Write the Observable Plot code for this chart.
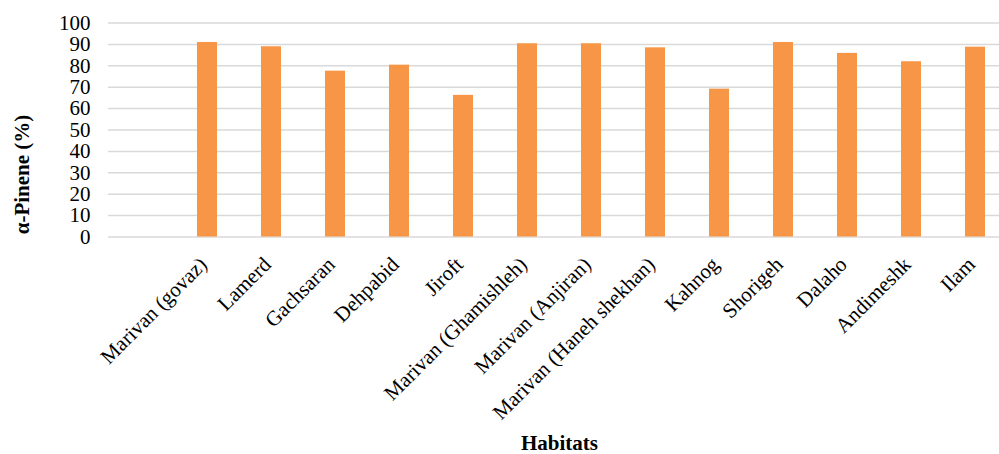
<!DOCTYPE html>
<html><head><meta charset="utf-8">
<script src="https://cdn.jsdelivr.net/npm/d3@7"></script>
<script src="https://cdn.jsdelivr.net/npm/@observablehq/plot@0.6"></script>
<style>
body{margin:0;background:#fff}
#chart{width:999px;height:454px;overflow:hidden}
</style>
</head><body><div id="chart"></div>
<script>
const habitats = ["Marivan (govaz)", "Lamerd", "Gachsaran", "Dehpabid", "Jiroft", "Marivan (Ghamishleh)", "Marivan (Anjiran)", "Marivan (Haneh shekhan)", "Kahnog", "Shorigeh", "Dalaho", "Andimeshk", "Ilam"];
const alphaPinene = [90.9, 88.9, 77.5, 80.3, 66.2, 90.3, 90.3, 88.4, 69.1, 90.9, 85.8, 81.9, 88.7];
const yTicks = [0, 10, 20, 30, 40, 50, 60, 70, 80, 90, 100];
const xTitle = "Habitats";
const yTitle = "α-Pinene (%)";

const data = habitats.map((h, i) => ({habitat: h, value: alphaPinene[i]}));
const font = "'Liberation Serif', 'Times New Roman', serif";

const chart = Plot.plot({
  width: 999,
  height: 454,
  marginLeft: 108,
  marginRight: -11,
  marginTop: 22.5,
  marginBottom: 217.5,
  style: {fontFamily: font, fontSize: "21px", color: "#000", background: "#fff"},
  x: {domain: [" ", ...habitats], paddingInner: 0.69, paddingOuter: 0.345},
  y: {domain: [0, 100]},
  marks: [
    Plot.gridY(yTicks, {stroke: "#d9d9d9", strokeOpacity: 1, strokeWidth: 1.5}),
    Plot.barY(data, {x: "habitat", y: "value", fill: "#F79646"}),
    Plot.axisY(yTicks, {tickSize: 0, tickPadding: 18, fontSize: 21, label: null}),
    Plot.axisX({tickSize: 0, tickRotate: -45, tickPadding: 24, dx: -4, fontSize: 21, label: null}),
    Plot.text([xTitle], {text: d => d, frameAnchor: "bottom", lineAnchor: "middle", textAnchor: "middle", dy: 206.5, fontWeight: "bold", fontSize: 21}),
    Plot.text([yTitle], {text: d => d, frameAnchor: "left", lineAnchor: "middle", textAnchor: "middle", dx: -86.5, dy: 44.5, rotate: -90, fontWeight: "bold", fontSize: 21})
  ]
});
document.getElementById("chart").appendChild(chart);
</script>
</body></html>
